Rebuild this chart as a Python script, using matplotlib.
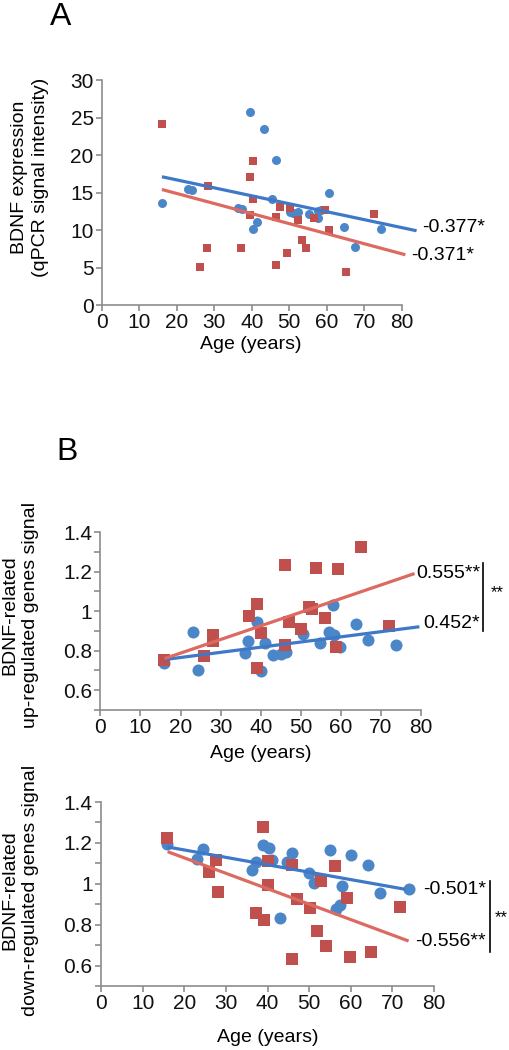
import matplotlib
matplotlib.use("Agg")
import matplotlib.pyplot as plt

plt.rcParams['font.family'] = ['Liberation Sans', 'DejaVu Sans']

W, H = 509, 1050

# panel A: BDNF qPCR vs age
a_blue_age = [16.0, 23, 24, 39.5, 43.3, 46.4, 36.2, 37.5, 45.3, 40.4, 41.3, 50.3, 50.9,
              52.4, 55.4, 57.6, 57.6, 60.6, 58.5, 64.5, 74.6, 67.5]
a_blue_val = [13.6, 15.5, 15.3, 25.7, 23.5, 19.3, 12.9, 12.8, 14.1, 10.2, 11.1, 12.4, 12.3,
              12.4, 12.1, 12.6, 11.6, 15.0, 12.7, 10.4, 10.2, 7.8]
a_red_age = [16, 28.3, 28.1, 26.3, 37.2, 39.5, 40.4, 40.3, 39.5, 46.4, 47.5, 46.4, 49.4,
             50.3, 52.4, 53.4, 54.5, 56.5, 59.6, 60.6, 72.7, 65.2]
a_red_val = [24.1, 15.9, 7.6, 5.1, 7.6, 17.1, 19.2, 14.2, 12.0, 11.8, 13.1, 5.4, 7.0,
             12.9, 11.3, 8.7, 7.6, 11.6, 12.7, 10.0, 12.2, 4.4]
a_blue_fit = ([16, 84], [17.1, 9.9])
a_red_fit = ([16, 81], [15.4, 6.7])

# panel B top: up-regulated genes
bu_blue_age = [15.8, 24.3, 36.1, 40.0, 43, 45, 46.3, 41.0, 36.9, 54.9, 59.9, 66.7, 73.8,
               23.2, 39.2, 50.6, 57, 58.3, 58, 63.8]
bu_blue_val = [0.736, 0.70, 0.79, 0.697, 0.778, 0.782, 0.795, 0.837, 0.85, 0.84, 0.82, 0.854,
               0.829, 0.893, 0.947, 0.883, 0.896, 0.879, 1.031, 0.933]
bu_red_age = [15.9, 46.0, 53.9, 59.3, 39.0, 37.1, 28.0, 28.0, 25.9, 40.0, 47.0, 50.0, 52,
              52.9, 56, 46.0, 39, 58.9, 72.0, 65]
bu_red_val = [0.753, 1.233, 1.22, 1.213, 1.036, 0.975, 0.88, 0.85, 0.773, 0.89, 0.946, 0.91,
              1.022, 1.011, 0.967, 0.829, 0.711, 0.82, 0.925, 1.326]
bu_blue_fit = ([16, 79.6], [0.755, 0.921])
bu_red_fit = ([16, 78.4], [0.76, 1.19])

# panel B bottom: down-regulated genes
bd_blue_age = [15.9, 24.4, 23.0, 36.2, 37.2, 39.0, 40.4, 41.2, 44.6, 45.8, 42.9, 54.9, 50,
               51.2, 57.8, 57.5, 60.1, 64.1, 56.5, 67.1, 73.9]
bd_blue_val = [1.195, 1.169, 1.12, 1.067, 1.108, 1.19, 1.176, 1.116, 1.108, 1.149, 0.831,
               1.165, 1.051, 1.002, 0.988, 0.896, 1.141, 1.092, 0.875, 0.956, 0.974]
bd_red_age = [15.9, 39.0, 27.6, 26.0, 28.0, 40.2, 40.1, 46, 47.0, 50.1, 37.2, 39.2, 46,
              51.8, 54, 52.9, 56.1, 59.1, 59.9, 64.9, 71.9]
bd_red_val = [1.222, 1.279, 1.116, 1.059, 0.961, 1.113, 0.994, 1.092, 0.925, 0.88, 0.855,
              0.823, 0.63, 0.77, 0.696, 1.015, 1.088, 0.929, 0.64, 0.665, 0.888]
bd_blue_fit = ([16, 73.1], [1.18, 0.973])
bd_red_fit = ([16, 73.9], [1.157, 0.72])

BLUE = '#4a86c8'
RED = '#c0504d'
BLUE_LINE = '#3f78c6'
RED_LINE = '#dc6a60'
GREY = '#8c8c8c'
FS = 14

fig = plt.figure(figsize=(W / 100, H / 100), dpi=100)


def add_ax(left, right, top, bottom):
    ax = fig.add_axes([left / W, 1 - bottom / H, (right - left) / W, (bottom - top) / H])
    for s in ['top', 'right']:
        ax.spines[s].set_visible(False)
    for s in ['left', 'bottom']:
        ax.spines[s].set_color(GREY)
        ax.spines[s].set_linewidth(1.2)
    ax.tick_params(colors=GREY, labelcolor='#111111', labelsize=15, length=4, width=1.2,
                   direction='out', pad=2)
    ax.set_xlim(0, 80)
    ax.set_xticks(range(0, 81, 10))
    return ax


def ftext(x, y, s, **kw):
    kw.setdefault('fontsize', FS)
    fig.text(x / W, 1 - y / H, s, **kw)


def draw(ax, bx, by, rx, ry, bfit, rfit, ms_c, ms_s):
    ax.scatter(bx, by, s=ms_c, color=BLUE, marker='o', zorder=3, clip_on=False, linewidths=0)
    ax.scatter(rx, ry, s=ms_s, color=RED, marker='s', zorder=3, clip_on=False, linewidths=0)
    ax.plot(bfit[0], bfit[1], color=BLUE_LINE, lw=2.3, zorder=4, clip_on=False,
            solid_capstyle='butt')
    ax.plot(rfit[0], rfit[1], color=RED_LINE, lw=2.3, zorder=4, clip_on=False,
            solid_capstyle='butt')


# ---- A
axA = add_ax(102, 401.6, 80, 305)
axA.set_ylim(0, 30)
axA.set_yticks(range(0, 31, 5))
draw(axA, a_blue_age, a_blue_val, a_red_age, a_red_val, a_blue_fit, a_red_fit, 42, 38)
ftext(251, 345, 'Age (years)', ha='center', va='center')
ftext(61, 25, 'A', fontsize=23, ha='center', va='baseline')
ftext(30, 177, 'BDNF expression\n(qPCR signal intensity)', rotation=90, ha='center',
      va='center', linespacing=1.3)
ftext(422, 228, '-0.377*', va='center')
ftext(411, 255, '-0.371*', va='center')


def b_axis(ax):
    ax.set_ylim(0.5, 1.4)
    ticks = [0.5 + 0.1 * i for i in range(10)]
    ax.set_yticks(ticks)
    ax.set_yticklabels(['', '0.6', '', '0.8', '', '1', '', '1.2', '', '1.4'])


# ---- B top
axB1 = add_ax(100.4, 421, 532, 710)
b_axis(axB1)
draw(axB1, bu_blue_age, bu_blue_val, bu_red_age, bu_red_val, bu_blue_fit, bu_red_fit, 75, 68)
ftext(261, 754, 'Age (years)', ha='center', va='center')
ftext(67, 460, 'B', fontsize=23, ha='center', va='baseline')
ftext(20, 615, 'BDNF-related\nup-regulated genes signal', rotation=90, ha='center',
      va='center', linespacing=1.3)
ftext(416.7, 573, '0.555**', va='center')
ftext(423, 623, '0.452*', va='center')
fig.add_artist(plt.Line2D([483.3 / W, 483.3 / W], [1 - 563 / H, 1 - 630.7 / H],
                          color='black', lw=1.2))
ftext(491, 593, '**', fontsize=12, va='center')

# ---- B bottom
axB2 = add_ax(101, 434, 802, 986)
b_axis(axB2)
draw(axB2, bd_blue_age, bd_blue_val, bd_red_age, bd_red_val, bd_blue_fit, bd_red_fit, 75, 68)
ftext(268, 1038, 'Age (years)', ha='center', va='center')
ftext(20, 890, 'BDNF-related\ndown-regulated genes signal', rotation=90, ha='center',
      va='center', linespacing=1.3)
ftext(423.3, 890, '-0.501*', va='center')
ftext(415, 941, '-0.556**', va='center')
fig.add_artist(plt.Line2D([490 / W, 490 / W], [1 - 880.7 / H, 1 - 951.7 / H],
                          color='black', lw=1.2))
ftext(495, 918, '**', fontsize=12, va='center')

fig.savefig('out.png', dpi=100)
